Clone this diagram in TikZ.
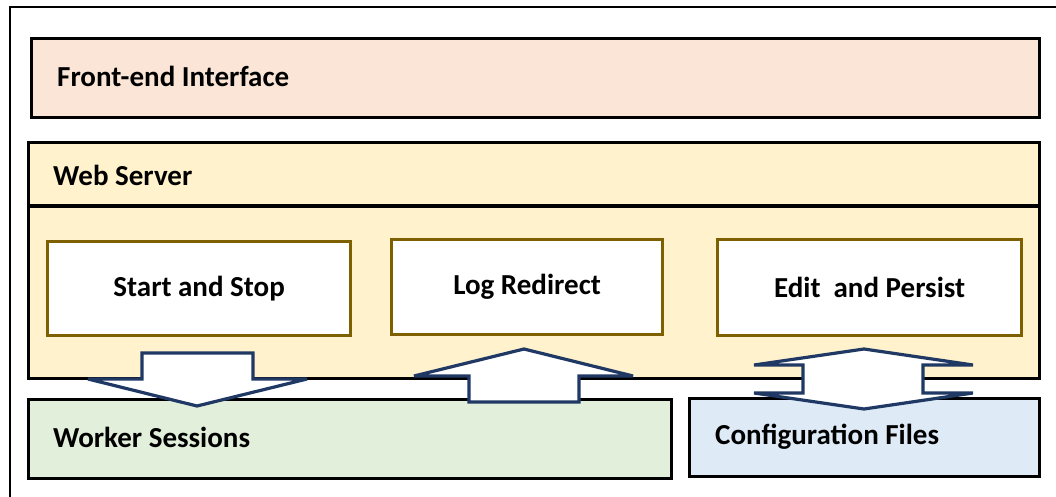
\documentclass[tikz,border=0pt]{standalone}
\usepackage{fontspec}
\setmainfont{Carlito}
\definecolor{frontfill}{HTML}{FBE5D6}
\definecolor{webfill}{HTML}{FFF2CC}
\definecolor{workfill}{HTML}{E2EFDA}
\definecolor{conffill}{HTML}{DEEBF7}
\definecolor{gold}{HTML}{7F6000}
\definecolor{navy}{HTML}{1F3864}
\begin{document}
\begin{tikzpicture}[x=1pt,y=-1pt,
  box/.style={draw=black,line width=3.2pt,inner sep=0pt,anchor=north west},
  inbox/.style={draw=gold,fill=white,line width=3.2pt,inner sep=0pt,anchor=north west,
     minimum width=300pt,minimum height=94pt,font=\fontsize{29}{34}\selectfont\bfseries},
  lbl/.style={anchor=west,inner sep=0pt,font=\fontsize{29}{34}\selectfont\bfseries},
  barrow/.style={draw=navy,fill=white,line width=3.2pt,line join=miter,miter limit=3}]
\useasboundingbox (0,0) rectangle (1056,497);
\draw[line width=2.4pt] (10,520) -- (10,7) -- (1070,7);
% front-end
\node[box,fill=frontfill,minimum width=1008pt,minimum height=79pt] (front) at (30,37) {};
\node[lbl] (frontl) at (57,76) {Front-end Interface};
% web server
\node[box,fill=webfill,minimum width=1011pt,minimum height=236pt] (web) at (27,141) {};
\draw[line width=3.2pt] (web.west |- 0,206) coordinate (d1) -- (web.east |- 0,206) coordinate (d2);
\node[lbl] (webl) at (53,175) {Web Server};
% inner boxes
\node[inbox,minimum width=303pt] (start) at (46,240) {Start and Stop};
\node[inbox,minimum width=271pt,minimum height=95pt] (log) at (390,238) {Log Redirect};
\node[inbox,minimum width=304pt,minimum height=96pt] (edit) at (716,238) {Edit\ \ and Persist};
% bottom boxes
\node[box,fill=workfill,minimum width=643pt,minimum height=79pt] (work) at (27,398) {};
\node[lbl] (workl) at (53,437) {Worker Sessions};
\node[box,fill=conffill,minimum width=350pt,minimum height=78pt] (conf) at (688,397) {};
\node[lbl] (confl) at (715,437) {Configuration Files};
% arrows
\draw[barrow] (142,353) -- (253,353) -- (253,379) -- (307,379) -- (197,406) -- (88,379) -- (142,379) -- cycle;
\draw[barrow] (524,349) -- (633,376) -- (579,376) -- (579,402) -- (469,402) -- (469,376) -- (414,376) -- cycle;
\draw[barrow] (864,349) -- (973,365) -- (923,365) -- (923,393) -- (973,393) -- (864,409) -- (754,393) -- (803,393) -- (803,365) -- (754,365) -- cycle;
\end{tikzpicture}
\end{document}
